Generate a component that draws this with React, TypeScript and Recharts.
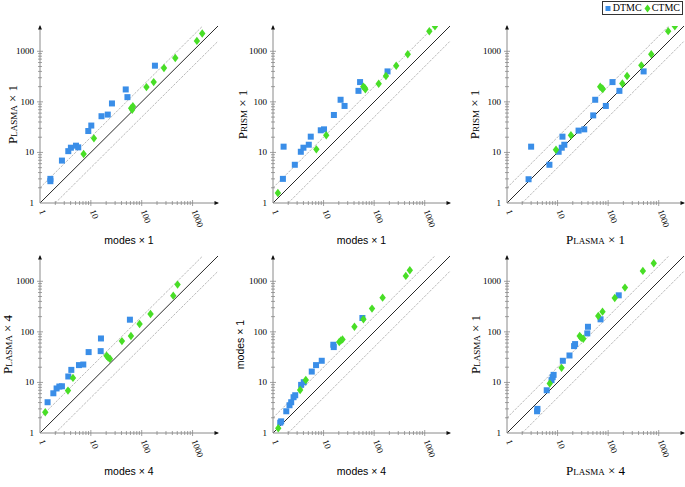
import React from 'react';
import { ScatterChart, Scatter, XAxis, YAxis, ReferenceLine, ReferenceDot, Legend } from 'recharts';

// ---------- data ----------
const MAJOR_TICKS = [1, 10, 100, 1000];
const MINOR_TICKS = [2, 3, 4, 5, 6, 7, 8, 9, 20, 30, 40, 50, 60, 70, 80, 90, 200, 300, 400, 500, 600, 700, 800, 900];
const ALL_TICKS = [...MAJOR_TICKS, ...MINOR_TICKS].sort((a, b) => a - b);
const AXIS_MIN = 1;
const AXIS_MAX = 3162;
const BAND_FACTOR = 2;
const SERIES_NAMES = ['DTMC', 'CTMC'];

// panel 1: modes x1 vs Plasma x1
const p1Dtmc = [[1.6, 3.0], [1.6, 2.7], [2.7, 6.9], [3.6, 10.6], [4.05, 12.4], [5.1, 13.6], [5.65, 12.6], [8.9, 26.5], [10.2, 34], [16.2, 52], [21.5, 56], [26, 93], [48.5, 176], [52.4, 124], [182, 519]];
const p1Ctmc = [[7.2, 9.3], [11.5, 19], [62, 75], [67, 82], [65, 70], [124, 196], [172, 246], [274, 466], [457, 738], [1216, 1604], [1548, 2244]];
// panel 2: modes x1 vs Prism x1
const p2Dtmc = [[1.62, 13], [1.57, 3.0], [2.7, 5.7], [3.55, 10.3], [4.0, 12.4], [5.1, 14.2], [5.58, 20.5], [8.8, 27.4], [10.2, 28.6], [16, 55], [21.7, 110], [26, 83], [49, 165], [52.7, 246], [184, 400]];
const p2Ctmc = [[1.25, 1.58], [7.2, 11.5], [11.3, 21.8], [61, 200], [65, 190], [67, 178], [123, 228], [171, 324], [273, 519], [462, 871], [1233, 2497], [1593, 3120]];
// panel 3: Plasma x1 vs Prism x1
const p3Dtmc = [[3.0, 13], [2.67, 2.95], [6.9, 5.7], [10.5, 10.3], [12.1, 12.4], [13.6, 14.2], [12.5, 20.5], [26, 27], [33.7, 28.6], [50.7, 54], [55.5, 110], [90, 83], [167, 165], [122, 246], [503, 400]];
const p3Ctmc = [[9.3, 11.3], [18.4, 21.8], [69.6, 199], [75, 187], [78.5, 179], [191, 230], [237, 324], [453, 527], [712, 871], [1538, 2500], [2080, 3120]];
// panel 4: modes x4 vs Plasma x4
const p4Dtmc = [[1.41, 4.06], [1.83, 6.1], [2.12, 7.6], [2.4, 8.3], [2.7, 8.4], [3.6, 13.1], [4.13, 17.7], [5.84, 22], [7.1, 22.6], [9.04, 39.8], [15.8, 74], [15.6, 41.6], [58.6, 174]];
const p4Ctmc = [[1.27, 2.57], [3.55, 6.9], [4.45, 12.3], [20.4, 33.6], [21.9, 31], [23.7, 29.3], [40.8, 65.7], [61.4, 82.6], [90.8, 143], [149, 225], [417, 520], [507, 860]];
// panel 5: modes x4 vs modes x1
const p5Dtmc = [[1.39, 1.6], [1.45, 1.7], [1.83, 2.69], [2.12, 3.54], [2.29, 4.06], [2.55, 5.1], [2.75, 5.58], [3.6, 8.95], [4.06, 10.1], [5.84, 16.4], [7.1, 22], [9.2, 26.8], [15.6, 55.6], [15.9, 50], [58.6, 188]];
const p5Ctmc = [[1.27, 1.24], [3.44, 7.1], [4.45, 11.2], [20.4, 62.8], [22, 67.7], [23.7, 70.9], [40.8, 126], [61.4, 177], [90.8, 288], [147, 475], [423, 1277], [507, 1655]];
// panel 6: Plasma x4 vs Plasma x1
const p6Dtmc = [[3.93, 2.69], [4.0, 3.0], [6.1, 7.0], [7.6, 11.1], [8.0, 12.7], [8.35, 14.1], [12.7, 26.8], [17.2, 34.1], [21.2, 52.3], [22.2, 57.3], [38.7, 93.3], [39.9, 126], [70.8, 177], [162, 528]];
const p6Ctmc = [[7.0, 9.5], [12, 19.4], [27.4, 82.6], [29.5, 76], [32.3, 73], [63.7, 206], [77.4, 251], [135, 468], [215, 750], [486, 1606], [798, 2279]];

const AXIS_TITLES = [
  ['modes × 1', 'Plasma × 1'],
  ['modes × 1', 'Prism × 1'],
  ['Plasma × 1', 'Prism × 1'],
  ['modes × 4', 'Plasma × 4'],
  ['modes × 4', 'modes × 1'],
  ['Plasma × 4', 'Plasma × 1'],
];

// ---------- style ----------
const BLUE = '#3a8ee8';
const GREEN = '#48de26';
const AXIS_GRAY = '#8a8a8a';
const SERIF = "'Liberation Serif', 'DejaVu Serif', serif";
const SANS = "'Liberation Sans', Arial, sans-serif";
const SERIES_COLORS = [BLUE, GREEN];

const toPoints = (arr: number[][]) => arr.map(([x, y]) => ({ x, y }));

const XTick = (props: any) => {
  const { x, y, payload } = props;
  const v = payload.value;
  const major = MAJOR_TICKS.includes(v);
  const h = major ? 3 : 2;
  return (
    <g>
      {v !== 1 && <line x1={x} x2={x} y1={y - h} y2={y + h} stroke={AXIS_GRAY} strokeWidth={0.8} />}
      {major && (
        <text transform={`translate(${x - 1},${y + 8}) rotate(70)`} fontSize={9} fontFamily={SERIF} fill="#000">
          {v}
        </text>
      )}
    </g>
  );
};

const YTick = (props: any) => {
  const { x, y, payload } = props;
  const v = payload.value;
  const major = MAJOR_TICKS.includes(v);
  const h = major ? 3 : 2;
  return (
    <g>
      {v !== 1 && <line x1={x - h} x2={x + h} y1={y} y2={y} stroke={AXIS_GRAY} strokeWidth={0.8} />}
      {major && (
        <text x={x - 6} y={y} dy="0.33em" textAnchor="end" fontSize={9} fontFamily={SERIF} fill="#000">
          {v}
        </text>
      )}
    </g>
  );
};

const Square = (props: any) => {
  const { cx, cy } = props;
  if (cx == null || cy == null) return null;
  return <rect x={cx - 3} y={cy - 3} width={6} height={6} fill={BLUE} />;
};

const Diamond = (props: any) => {
  const { cx, cy } = props;
  if (cx == null || cy == null) return null;
  return <polygon points={`${cx},${cy - 4.2} ${cx + 3.2},${cy} ${cx},${cy + 4.2} ${cx - 3.2},${cy}`} fill={GREEN} />;
};

const ArrowRight = (props: any) => {
  const { cx, cy } = props;
  if (cx == null || cy == null) return null;
  return <polygon points={`${cx + 1},${cy} ${cx - 3.5},${cy - 2} ${cx - 3.5},${cy + 2}`} fill="#111" />;
};

const ArrowUp = (props: any) => {
  const { cx, cy } = props;
  if (cx == null || cy == null) return null;
  return <polygon points={`${cx},${cy - 1} ${cx - 2},${cy + 3.5} ${cx + 2},${cy + 3.5}`} fill="#111" />;
};

const titleStyle = (text: string) => {
  const isModes = text.startsWith('modes');
  return {
    fontFamily: isModes ? SANS : SERIF,
    fontSize: isModes ? 10.5 : 13,
    fill: '#000',
    style: isModes ? {} : { fontVariant: 'small-caps' as const },
  };
};

const LegendBox = () => (
  <div
    style={{
      display: 'flex',
      alignItems: 'center',
      border: '1px solid #333',
      background: '#fff',
      padding: '0px 2px 0px 2px',
      height: 12,
      fontFamily: SERIF,
      fontSize: 10,
      lineHeight: '12px',
      whiteSpace: 'nowrap',
    }}
  >
    {SERIES_NAMES.map((name, i) => (
      <span key={name} style={{ display: 'inline-flex', alignItems: 'center', marginLeft: i === 0 ? 0 : 2 }}>
        <svg width={7} height={9} style={{ marginRight: 1 }}>
          {i === 0 ? (
            <rect x={0.5} y={2} width={5} height={5} fill={SERIES_COLORS[i]} />
          ) : (
            <polygon points="3.5,0.5 6.5,4.5 3.5,8.5 0.5,4.5" fill={SERIES_COLORS[i]} />
          )}
        </svg>
        {name}
      </span>
    ))}
  </div>
);

type PanelProps = {
  left: number;
  top: number;
  width: number;
  height: number;
  marginTop: number;
  marginRight: number;
  yAxisWidth: number;
  xAxisHeight: number;
  xTitleOffset: number;
  yTitleOffset: number;
  titles: string[];
  dtmc: number[][];
  ctmc: number[][];
  legend?: boolean;
};

const Panel = (p: PanelProps) => {
  const [xt, yt] = p.titles;
  return (
    <div style={{ position: 'absolute', left: p.left, top: p.top }}>
      <ScatterChart
        width={p.width}
        height={p.height}
        margin={{ top: p.marginTop, right: p.marginRight, bottom: 0, left: 0 }}
      >
        <XAxis
          dataKey="x"
          type="number"
          scale="log"
          domain={[AXIS_MIN, AXIS_MAX]}
          allowDataOverflow
          ticks={ALL_TICKS}
          interval={0}
          tick={(t: any) => <XTick {...t} />}
          tickLine={false}
          tickSize={0}
          tickMargin={0}
          axisLine={{ stroke: AXIS_GRAY, strokeWidth: 1 }}
          height={p.xAxisHeight}
          label={{ value: xt, position: 'insideBottom', offset: p.xTitleOffset, ...titleStyle(xt) }}
        />
        <YAxis
          dataKey="y"
          type="number"
          scale="log"
          domain={[AXIS_MIN, AXIS_MAX]}
          allowDataOverflow
          ticks={ALL_TICKS}
          interval={0}
          tick={(t: any) => <YTick {...t} />}
          tickLine={false}
          tickSize={0}
          tickMargin={0}
          axisLine={{ stroke: AXIS_GRAY, strokeWidth: 1 }}
          width={p.yAxisWidth}
          label={{
            value: yt,
            position: 'insideLeft',
            angle: -90,
            offset: p.yTitleOffset,
            ...titleStyle(yt),
            style: { ...(titleStyle(yt).style || {}), textAnchor: 'middle' },
          }}
        />
        <ReferenceLine
          segment={[{ x: AXIS_MIN, y: AXIS_MIN * BAND_FACTOR }, { x: AXIS_MAX / BAND_FACTOR, y: AXIS_MAX }]}
          stroke="#9c9c9c"
          strokeWidth={0.7}
          strokeDasharray="2.5 1.2"
          ifOverflow="visible"
        />
        <ReferenceLine
          segment={[{ x: AXIS_MIN * BAND_FACTOR, y: AXIS_MIN }, { x: AXIS_MAX, y: AXIS_MAX / BAND_FACTOR }]}
          stroke="#9c9c9c"
          strokeWidth={0.7}
          strokeDasharray="2.5 1.2"
          ifOverflow="visible"
        />
        <ReferenceLine
          segment={[{ x: AXIS_MIN, y: AXIS_MIN }, { x: AXIS_MAX, y: AXIS_MAX }]}
          stroke="#111"
          strokeWidth={0.9}
          ifOverflow="visible"
        />
        <ReferenceDot x={AXIS_MAX} y={AXIS_MIN} r={0} shape={ArrowRight} ifOverflow="visible" />
        <ReferenceDot x={AXIS_MIN} y={AXIS_MAX} r={0} shape={ArrowUp} ifOverflow="visible" />
        <Scatter name={SERIES_NAMES[0]} data={toPoints(p.dtmc)} fill={BLUE} shape={Square} isAnimationActive={false} />
        <Scatter name={SERIES_NAMES[1]} data={toPoints(p.ctmc)} fill={GREEN} shape={Diamond} isAnimationActive={false} />
        {p.legend && (
          <Legend
            layout="horizontal"
            verticalAlign="middle"
            align="center"
            wrapperStyle={{ top: 1, left: 'auto', right: 2, width: 'auto', height: 'auto' }}
            content={() => <LegendBox />}
          />
        )}
      </ScatterChart>
    </div>
  );
};

const TOP = { top: 0, height: 248, marginTop: 26, xAxisHeight: 45, xTitleOffset: 4 };
const BOTTOM = { top: 232, height: 255, marginTop: 24, xAxisHeight: 54, xTitleOffset: 12 };
const COLS = [
  { left: 0, width: 226, yAxisWidth: 40, marginRight: 8 },
  { left: 230, width: 226, yAxisWidth: 43, marginRight: 6 },
  { left: 460, width: 225, yAxisWidth: 47, marginRight: 1 },
];
const Y_TITLE_OFFSETS = [12, 12, 14, 7, 10.5, 15];
const PANEL_DATA = [
  [p1Dtmc, p1Ctmc],
  [p2Dtmc, p2Ctmc],
  [p3Dtmc, p3Ctmc],
  [p4Dtmc, p4Ctmc],
  [p5Dtmc, p5Ctmc],
  [p6Dtmc, p6Ctmc],
];

export default function App() {
  return (
    <div style={{ position: 'absolute', left: 0, top: 0, width: 685, height: 487, background: '#fff', overflow: 'hidden' }}>
      {PANEL_DATA.map(([dtmc, ctmc], i) => {
        const row = i < 3 ? TOP : BOTTOM;
        const col = COLS[i % 3];
        return (
          <Panel
            key={i}
            left={col.left}
            top={row.top}
            width={col.width}
            height={row.height}
            marginTop={row.marginTop}
            marginRight={col.marginRight}
            yAxisWidth={col.yAxisWidth}
            xAxisHeight={row.xAxisHeight}
            xTitleOffset={row.xTitleOffset}
            yTitleOffset={Y_TITLE_OFFSETS[i]}
            titles={AXIS_TITLES[i]}
            dtmc={dtmc}
            ctmc={ctmc}
            legend={i === 2}
          />
        );
      })}
    </div>
  );
}
